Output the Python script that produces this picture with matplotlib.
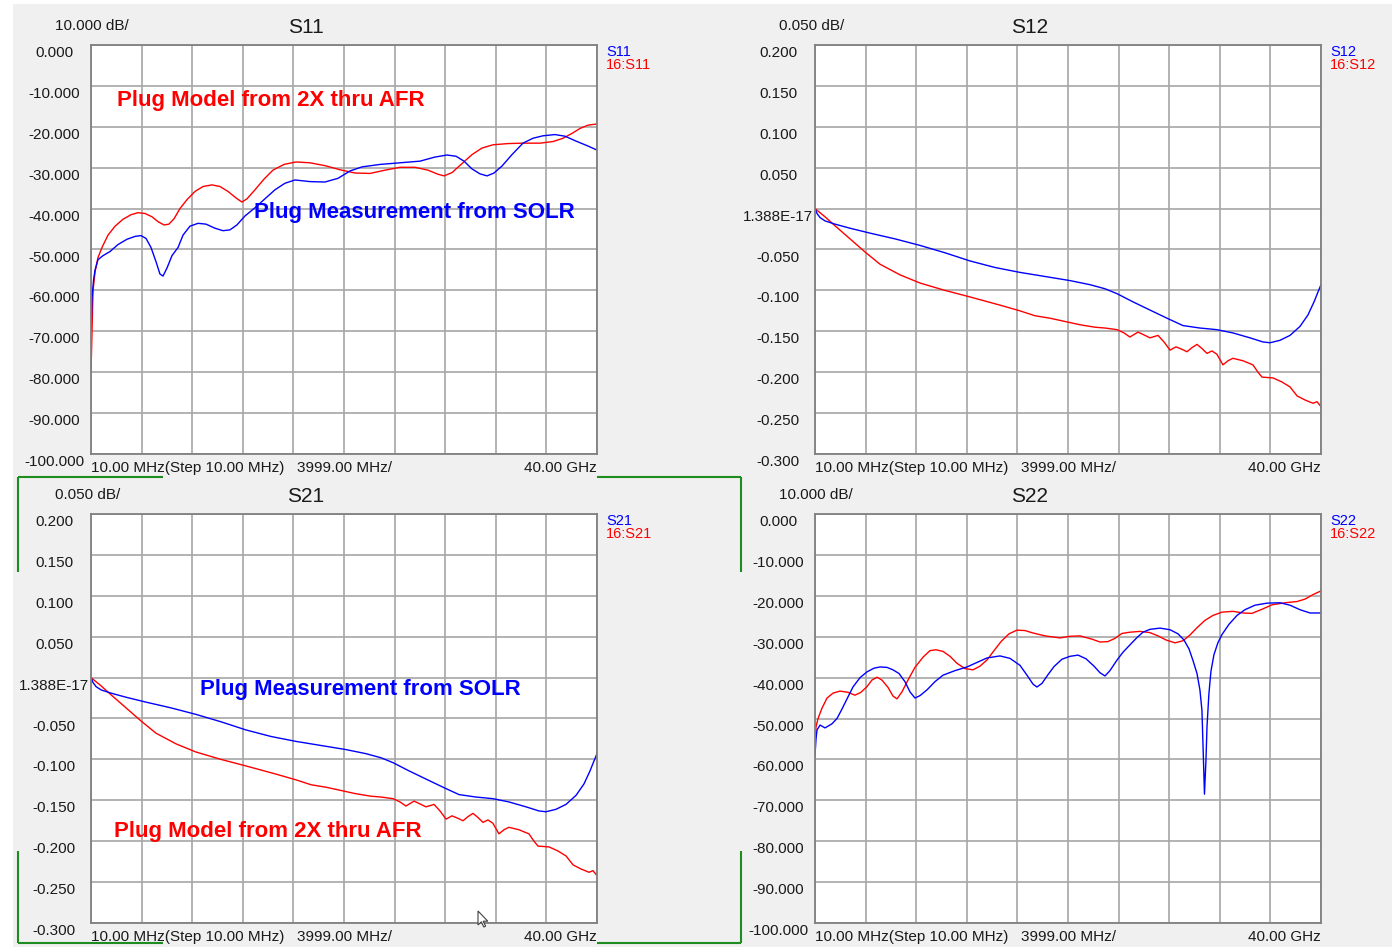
import matplotlib
matplotlib.use('Agg')
import matplotlib.pyplot as plt
from matplotlib.patches import Rectangle, Polygon
import numpy as np

W, H = 1399, 947
plt.rcParams['font.family'] = ['Liberation Sans', 'DejaVu Sans']

# sweep limits, GHz
F_START, F_STOP = 0.01, 40.0

# --- S11 (dB) ---
s11_model_f = [0.01, 0.09, 0.17, 0.33, 0.56, 0.88, 1.35, 1.91, 2.54, 3.17, 3.72, 4.28,
               4.83, 5.31, 5.78, 6.17, 6.57, 7.04, 7.60, 8.23, 8.86, 9.57, 10.20, 10.84,
               11.47, 11.94, 12.34, 12.97, 13.68, 14.39, 15.26, 16.21, 17.32, 18.50,
               19.69, 20.87, 22.06, 23.25, 24.43, 25.62, 26.64, 27.43, 27.91, 28.54,
               29.33, 30.12, 30.91, 31.78, 32.97, 34.15, 35.50, 36.53, 37.32, 38.03,
               38.66, 39.29, 40.0]
s11_model = [-80, -70, -60, -55.5, -52, -49.5, -46.5, -44.3, -42.6, -41.5, -41, -41.2,
             -42, -43.2, -44, -43.8, -42.5, -40, -37.8, -35.8, -34.6, -34.2, -34.6, -35.8,
             -37.4, -38.4, -37.6, -35.4, -32.8, -30.6, -29.2, -28.6, -28.8, -29.5,
             -30.5, -31.3, -31.4, -30.6, -29.9, -29.9, -30.6, -31.6, -32, -31.2,
             -29, -26.8, -25.2, -24.4, -24.1, -24, -24, -23.6, -22.8, -21.6,
             -20.4, -19.6, -19.3]
s11_meas_f = [0.01, 0.09, 0.21, 0.33, 0.56, 0.96, 1.51, 2.14, 2.85, 3.49, 3.96, 4.36,
              4.75, 5.15, 5.46, 5.70, 6.02, 6.41, 6.89, 7.28, 7.83, 8.47, 9.10, 9.81,
              10.44, 10.99, 11.54, 12.18, 12.97, 13.76, 14.55, 15.34, 16.13, 17.32,
              18.50, 19.53, 20.48, 21.43, 22.85, 24.43, 26.01, 27.19, 28.14, 28.86,
              29.49, 30.12, 30.75, 31.31, 31.86, 32.49, 33.28, 34.15, 34.94, 35.73,
              36.68, 37.47, 38.42, 39.29, 40.0]
s11_meas = [-70, -62, -57.5, -55, -52.5, -51.5, -50.5, -48.8, -47.5, -46.8, -46.6, -47.3,
            -49.5, -53, -56, -56.5, -54.5, -51.5, -49.5, -46.5, -44.3, -43.6, -43.8, -44.8,
            -45.4, -45.2, -44, -41.8, -39.8, -37.6, -35.4, -33.8, -33, -33.4,
            -33.5, -32.6, -30.8, -29.8, -29.2, -28.8, -28.4, -27.4, -26.9, -27.2,
            -28.4, -30.3, -31.5, -32, -31.3, -29.6, -26.8, -24, -22.8, -22.2,
            -21.9, -22.3, -23.6, -24.7, -25.7]

# --- insertion loss, S12 / S21 (dB) ---
thru_meas_f = [0.01, 0.17, 0.41, 0.80, 1.59, 2.78, 4.36, 6.33, 8.31, 10.28, 12.26, 14.24,
               16.21, 18.19, 20.16, 21.74, 22.93, 23.88, 25.14, 26.48, 27.83, 29.09,
               30.43, 31.77, 33.04, 34.39, 35.41, 35.97, 36.76, 37.55, 38.34, 38.97,
               39.45, 39.76, 40.0]
thru_meas = [0, -0.006, -0.011, -0.015, -0.019, -0.024, -0.030, -0.037, -0.045, -0.054,
             -0.064, -0.072, -0.078, -0.083, -0.088, -0.093, -0.098, -0.104, -0.114,
             -0.124, -0.134, -0.143, -0.146, -0.148, -0.152, -0.158, -0.163, -0.164,
             -0.161, -0.155, -0.144, -0.130, -0.114, -0.102, -0.093]
thru_model_f = [0.01, 0.80, 1.59, 2.78, 3.96, 5.15, 6.73, 8.31, 10.28, 12.26, 14.63,
                16.21, 17.40, 18.58, 19.77, 20.95, 22.14, 22.93, 23.88, 24.43, 24.90,
                25.54, 26.09, 26.48, 27.12, 27.59, 28.07, 28.54, 29.01, 29.41, 29.80,
                30.20, 30.59, 30.99, 31.38, 31.77, 32.25, 32.65, 33.04, 33.83, 34.62,
                35.02, 35.34, 36.21, 36.92, 37.55, 38.11, 38.74, 39.37, 39.68, 40.0]
thru_model = [0, -0.010, -0.021, -0.037, -0.053, -0.068, -0.081, -0.091, -0.100, -0.108,
              -0.118, -0.125, -0.131, -0.134, -0.138, -0.142, -0.145, -0.146, -0.148,
              -0.152, -0.157, -0.151, -0.155, -0.158, -0.155, -0.163, -0.173, -0.169,
              -0.172, -0.175, -0.170, -0.166, -0.171, -0.177, -0.174, -0.178, -0.191,
              -0.186, -0.183, -0.186, -0.191, -0.200, -0.206, -0.207, -0.212, -0.218,
              -0.229, -0.234, -0.238, -0.236, -0.242]

# --- S22 (dB) ---
s22_meas_f = [0.01, 0.09, 0.17, 0.41, 0.80, 1.35, 1.75, 2.14, 2.54, 3.01, 3.57, 4.12,
              4.67, 5.15, 5.70, 6.17, 6.65, 7.12, 7.52, 7.91, 8.31, 8.86, 9.49, 10.13,
              11.07, 12.02, 12.81, 13.60, 14.63, 15.42, 16.21, 16.76, 17.24, 17.55,
              17.95, 18.42, 18.90, 19.53, 20.16, 20.80, 21.43, 22.06, 22.53, 22.93,
              23.32, 23.88, 24.35, 24.90, 25.46, 25.93, 26.48, 27.28, 28.07, 28.70,
              29.17, 29.57, 29.88, 30.20, 30.43, 30.59, 30.67, 30.79, 30.91, 30.99,
              31.14, 31.30, 31.54, 31.85, 32.17, 32.72, 33.36, 33.99, 34.78, 35.73,
              36.76, 37.55, 38.34, 39.13, 40.0]
s22_meas = [-59, -55, -52.8, -51.6, -52.3, -51.3, -50, -47.7, -45.2, -42.3, -40, -38.6,
            -37.7, -37.4, -37.5, -38.1, -39, -41, -43.5, -45, -44.4, -43, -41, -39.4,
            -38.3, -37.4, -36.3, -35.2, -34.7, -35.3, -37, -39.4, -41.6, -42.3,
            -41.4, -39.3, -37.3, -35.5, -34.8, -34.5, -35.4, -37.2, -38.8, -39.6,
            -38.3, -35.7, -33.8, -32, -30.2, -28.9, -28.2, -27.9, -28.3, -29.3,
            -30.8, -33, -35.8, -39, -43, -48, -56, -68.5, -60, -52,
            -44, -38.5, -34.4, -31.5, -29.5, -27, -24.8, -23.4, -22.3, -21.8,
            -21.7, -22.3, -23.4, -24.2, -24.2]
s22_model_f = [0.01, 0.09, 0.25, 0.56, 0.96, 1.43, 1.99, 2.62, 3.17, 3.64, 4.12, 4.51,
               4.91, 5.30, 5.78, 6.17, 6.49, 6.88, 7.36, 7.91, 8.55, 9.10, 9.57, 10.13,
               10.68, 11.23, 11.86, 12.50, 13.05, 13.60, 14.16, 14.71, 15.34, 15.97,
               16.61, 17.24, 18.19, 19.37, 20.16, 20.95, 21.90, 22.53, 23.16, 23.72,
               24.27, 24.90, 25.69, 26.48, 27.12, 27.75, 28.46, 29.09, 29.64, 30.20,
               30.83, 31.46, 32.17, 33.04, 33.83, 34.54, 35.33, 36.13, 37.16, 38.11,
               38.74, 39.37, 40.0]
s22_model = [-56, -52, -50, -47.5, -45, -43.8, -43.3, -43.6, -44.3, -43.6, -42.2, -40.6,
             -39.9, -40.6, -42.4, -44.5, -45.2, -43.5, -40.6, -37.5, -35, -33.4, -33.2,
             -33.6, -34.8, -36.5, -37.8, -38.1, -37.2, -35.7, -33.4, -31.2, -29.3, -28.4,
             -28.5, -29.1, -29.8, -30.3, -29.9, -29.8, -30.6, -31.3, -31.2, -30.4,
             -29.2, -28.9, -28.7, -29, -29.8, -30.8, -31.5, -31, -29.6, -27.8,
             -26, -24.8, -24, -23.8, -24.2, -24.3, -23.3, -22.2, -21.7, -21.4,
             -20.8, -19.7, -18.8]

db_ticks = ['0.000', '-10.000', '-20.000', '-30.000', '-40.000', '-50.000',
            '-60.000', '-70.000', '-80.000', '-90.000', '-100.000']
lin_ticks = ['0.200', '0.150', '0.100', '0.050', '1.388E-17', '-0.050',
             '-0.100', '-0.150', '-0.200', '-0.250', '-0.300']

panels = [
    # name, dx, dy, (top, bottom), tick labels, scale, meas, model
    ('S11', 0, 0, (0, -100), db_ticks, '10.000 dB/',
     (s11_meas_f, s11_meas), (s11_model_f, s11_model)),
    ('S12', 724, 0, (0.2, -0.3), lin_ticks, '0.050 dB/',
     (thru_meas_f, thru_meas), (thru_model_f, thru_model)),
    ('S21', 0, 469, (0.2, -0.3), lin_ticks, '0.050 dB/',
     (thru_meas_f, thru_meas), (thru_model_f, thru_model)),
    ('S22', 724, 469, (0, -100), db_ticks, '10.000 dB/',
     (s22_meas_f, s22_meas), (s22_model_f, s22_model)),
]

BLUE = '#0000ff'
RED = '#ff0000'
TXT = '#1a1a1a'
GREEN = '#1e8c1e'

fig = plt.figure(figsize=(W / 100, H / 100), dpi=100, facecolor='white')


def pix_axes(l, t, r, b, z):
    a = fig.add_axes([l / W, 1 - b / H, (r - l) / W, (b - t) / H], zorder=z)
    return a


# background layer in pixel coordinates
bg = pix_axes(0, 0, W, H, 0)
bg.set_xlim(0, W)
bg.set_ylim(H, 0)
bg.axis('off')
bg.add_patch(Rectangle((13, 4), 1379, 943, facecolor='#f0f0f0', edgecolor='none'))

# active-window frame around S21 (partly painted over)
for seg in [((18, 163), (477, 477)), ((597, 741), (477, 477)),
            ((18, 163), (943, 943)), ((597, 741), (943, 943)),
            ((18, 18), (477, 572)), ((18, 18), (851, 943)),
            ((741, 741), (477, 572)), ((741, 741), (851, 943))]:
    bg.plot(seg[0], seg[1], color=GREEN, lw=1.5, solid_capstyle='butt')

for name, dx, dy, (ytop, ybot), ticks, scale, meas, model in panels:
    L, T, R, B = 91 + dx, 45 + dy, 597 + dx, 454 + dy
    ax = pix_axes(L, T, R, B, 1)
    ax.set_facecolor('white')
    ax.set_xlim(F_START, F_STOP)
    ax.set_ylim(ybot, ytop)
    ax.set_xticks(np.linspace(F_START, F_STOP, 11))
    ax.set_yticks(np.linspace(ybot, ytop, 11))
    ax.tick_params(length=0, labelbottom=False, labelleft=False)
    ax.grid(True, color='#a6a6a6', lw=1.2)
    ax.set_axisbelow(True)
    for sp in ax.spines.values():
        sp.set_color('#808080')
        sp.set_linewidth(1.3)

    ax.plot(model[0], model[1], color=RED, lw=1.0)
    ax.plot(meas[0], meas[1], color=BLUE, lw=1.0)

    # labels drawn around the grid
    bg.text(55 + dx, 26 + dy, scale, fontsize=11, color=TXT, ha='left', va='center')
    bg.text(306 + dx, 27 + dy, name, fontsize=15, color=TXT, ha='center', va='center')
    bg.text(606 + dx, 52 + dy, name, fontsize=10.5, color=BLUE, ha='left', va='center')
    bg.text(606 + dx, 65 + dy, '16:' + name, fontsize=10.5, color=RED,
            ha='left', va='center')
    for i, lab in enumerate(ticks):
        yp = T + i * (B - T) / 10 + 8
        bg.text(54 + dx, yp, lab, fontsize=11, color=TXT, ha='center', va='center')
    bg.text(L, B + 14, '10.00 MHz(Step 10.00 MHz)', fontsize=11, color=TXT,
            ha='left', va='center')
    bg.text(297 + dx, B + 14, '3999.00 MHz/', fontsize=11, color=TXT,
            ha='left', va='center')
    bg.text(R, B + 14, '40.00 GHz', fontsize=11, color=TXT, ha='right', va='center')

# annotations and pointer on top
top = pix_axes(0, 0, W, H, 2)
top.set_xlim(0, W)
top.set_ylim(H, 0)
top.axis('off')
top.patch.set_alpha(0)

top.text(117, 100, 'Plug Model from 2X thru AFR', fontsize=16, fontweight='bold',
         color=RED, ha='left', va='center')
top.text(254, 212, 'Plug Measurement from SOLR', fontsize=16, fontweight='bold',
         color=BLUE, ha='left', va='center')
top.text(200, 689, 'Plug Measurement from SOLR', fontsize=16, fontweight='bold',
         color=BLUE, ha='left', va='center')
top.text(114, 831, 'Plug Model from 2X thru AFR', fontsize=16, fontweight='bold',
         color=RED, ha='left', va='center')

arrow = np.array([(0, 0), (0, 14), (3.3, 10.8), (5.8, 16), (7.6, 15.2),
                  (5.2, 10.2), (9.8, 10.2)])
top.add_patch(Polygon(arrow + (478, 911), closed=True, facecolor='white',
                      edgecolor='#404040', lw=0.8))

fig.savefig('out.png', dpi=100, facecolor=fig.get_facecolor())
